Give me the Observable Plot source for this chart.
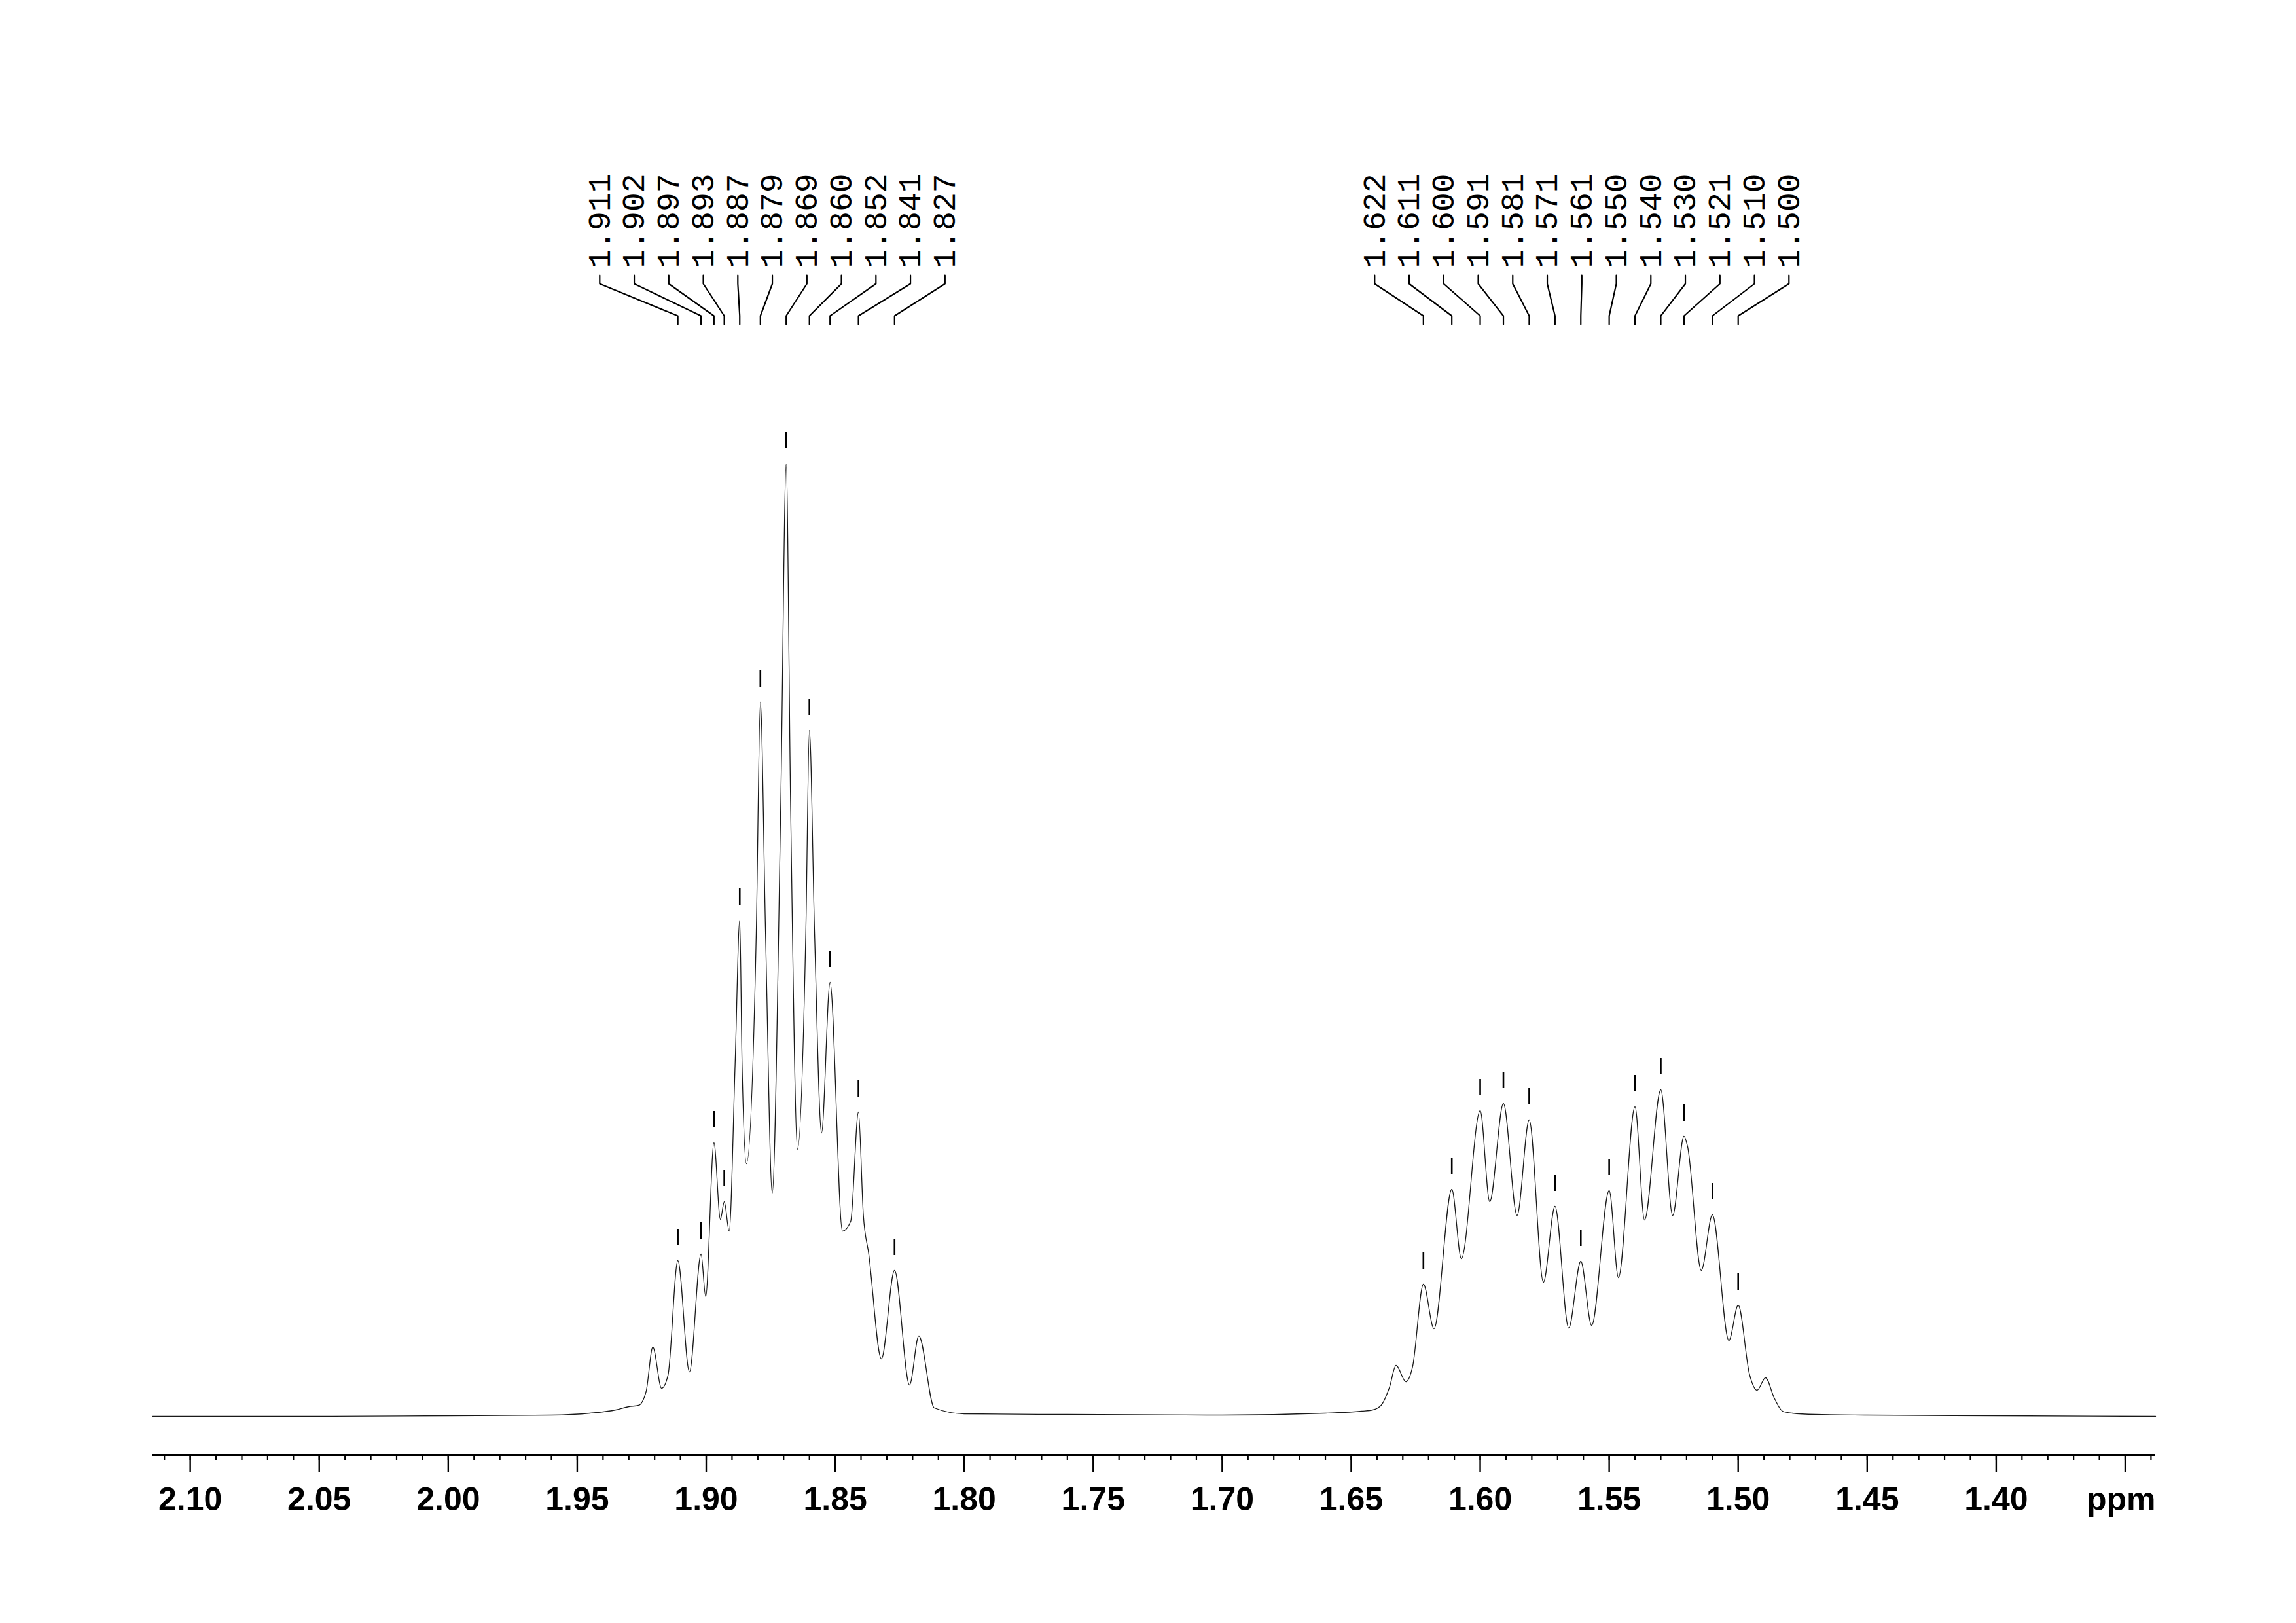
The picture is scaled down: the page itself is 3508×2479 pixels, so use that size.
<!DOCTYPE html>
<html>
<head>
<meta charset="utf-8">
<script src="https://cdn.jsdelivr.net/npm/d3@7"></script>
<script src="https://cdn.jsdelivr.net/npm/@observablehq/plot@0.6"></script>
<style>
  html, body { margin: 0; padding: 0; background: #ffffff; }
  #chart svg { display: block; }
</style>
</head>
<body>
<div id="chart"></div>
<script>
// ---------- data ----------
// labelled peaks (ppm) and their heights (intensity, arbitrary units)
const leftPeakPpm  = [1.911, 1.902, 1.897, 1.893, 1.887, 1.879, 1.869, 1.860, 1.852, 1.841, 1.827];
const leftPeakInt  = [240,   250,   420,   330,   760,   1093,  1457,  1050,  665,   467,   225];
const rightPeakPpm = [1.622, 1.611, 1.600, 1.591, 1.581, 1.571, 1.561, 1.550, 1.540, 1.530, 1.521, 1.510, 1.500];
const rightPeakInt = [204,   349,   469,   480,   455,   323,   239,   347,   475,   501,   430,   310,   172];

// other points of the trace (baseline, valleys, flanks, small unlabelled lines)
const curvePpm = [2.1145, 2.06, 2.00, 1.96, 1.945, 1.935, 1.9300, 1.9262, 1.9233, 1.9207, 1.9173, 1.9148,
  1.9065, 1.9002, 1.8945, 1.8911, 1.8888, 1.8861, 1.8844, 1.8806, 1.8770, 1.8744, 1.8711, 1.8673,
  1.8646, 1.8614, 1.8580, 1.8553, 1.8472, 1.8440, 1.8391, 1.8370, 1.8321, 1.8212, 1.8176, 1.8116,
  1.80, 1.76, 1.70, 1.66, 1.6459, 1.6416, 1.6384, 1.6352, 1.6326, 1.6288, 1.6262, 1.6179, 1.6073,
  1.5963, 1.5857, 1.5755, 1.5657, 1.5568, 1.5464, 1.5363, 1.5254, 1.5196, 1.5143, 1.5036, 1.4956,
  1.4927, 1.4894, 1.4860, 1.4828, 1.4791, 1.47, 1.45, 1.40, 1.3382];
const curveInt = [2, 2, 3, 4, 7, 12, 17, 19, 40, 108, 45, 65,
  70, 185, 303, 285, 540, 540, 388, 740, 740, 343, 940, 940,
  410, 740, 740, 435, 285, 300, 310, 250, 90, 50, 125, 15,
  6, 5, 4, 7, 10, 12, 19, 46, 80, 55, 78, 136, 243,
  330, 309, 207, 137, 141, 214, 302, 309, 414, 225, 118, 66,
  42, 61, 30, 10, 7, 5, 4, 3, 2];

const majorTickValues = [2.10, 2.05, 2.00, 1.95, 1.90, 1.85, 1.80, 1.75, 1.70, 1.65, 1.60, 1.55, 1.50, 1.45, 1.40, 1.35];
const majorTickLabels = ["2.10", "2.05", "2.00", "1.95", "1.90", "1.85", "1.80", "1.75", "1.70", "1.65", "1.60", "1.55", "1.50", "1.45", "1.40", ""];
const minorTickValues = d3.range(134, 212).map(v => v / 100);
const unitLabel = "ppm";

// ---------- layout ----------
const W = 3508, H = 2479;
const margin = {left: 233, right: 215, bottom: 257, top: 0};
const xDomain = [2.1145, 1.3382];
const yDomain = [0, 1457];
const yRange = [2165, 708];
const axisPx = H - margin.bottom;           // axis line position
const lab = {textStart: 409, top: 420, knee1: 433, knee2: 482, bottom: 495, spacing: 52.75};
const pick = {gap: 23, len: 25};

const xs = Plot.scale({x: {domain: xDomain, range: [margin.left, W - margin.right]}});
const ys = Plot.scale({y: {domain: yDomain, range: yRange}});
const yAt = px => ys.invert(px);

// spectrum
const spectrum = [];
curvePpm.forEach((p, i) => spectrum.push({ppm: p, I: curveInt[i]}));
const peaks = [];
leftPeakPpm.forEach((p, i) => peaks.push({ppm: p, I: leftPeakInt[i], g: 0}));
rightPeakPpm.forEach((p, i) => peaks.push({ppm: p, I: rightPeakInt[i], g: 1}));
peaks.forEach(d => spectrum.push({ppm: d.ppm, I: d.I}));
spectrum.sort((a, b) => b.ppm - a.ppm);

// peak labels: evenly spaced columns centred on the mean peak position of each group
const labels = [];
const connectors = [];
[leftPeakPpm, rightPeakPpm].forEach((grp, g) => {
  const px = grp.map(p => xs.apply(p));
  const mean = d3.mean(px);
  const n = grp.length;
  grp.forEach((p, i) => {
    const lx = xs.invert(mean + (i - (n - 1) / 2) * lab.spacing);
    const id = g + "-" + i;
    labels.push({x: lx, text: p.toFixed(3)});
    connectors.push({id, x: lx, y: yAt(lab.top)});
    connectors.push({id, x: lx, y: yAt(lab.knee1)});
    connectors.push({id, x: p,  y: yAt(lab.knee2)});
    connectors.push({id, x: p,  y: yAt(lab.bottom)});
  });
});

const plot = Plot.plot({
  width: W,
  height: H,
  marginLeft: margin.left,
  marginRight: margin.right,
  marginBottom: margin.bottom,
  marginTop: margin.top,
  style: {background: "#ffffff", overflow: "visible"},
  x: {domain: xDomain, label: null},
  y: {domain: yDomain, range: yRange, axis: null},
  marks: [
    // axis line
    Plot.ruleY([yAt(axisPx)], {stroke: "#000", strokeWidth: 3}),
    // minor ticks
    Plot.axisX({ticks: minorTickValues, tickSize: 8, tickFormat: () => "", stroke: "#000", strokeWidth: 2.2, label: null}),
    // major ticks + labels
    Plot.axisX({
      ticks: majorTickValues, tickSize: 26, tickPadding: 22.5,
      tickFormat: d => majorTickLabels[majorTickValues.indexOf(d)],
      stroke: "#000", strokeWidth: 2.4, fill: "#000",
      fontSize: 50, fontWeight: "bold", fontFamily: "'Liberation Sans', Arial, Helvetica, sans-serif",
      label: null
    }),
    Plot.text([unitLabel], {
      x: () => xDomain[1], y: () => yAt(2306.5), text: d => d,
      textAnchor: "end", lineAnchor: "bottom", fill: "#000",
      fontSize: 50, fontWeight: "bold", fontFamily: "'Liberation Sans', Arial, Helvetica, sans-serif"
    }),
    // spectrum trace
    Plot.line(spectrum, {x: "ppm", y: "I", curve: "monotone-x", stroke: "#1a1a1a", strokeWidth: 1.3}),
    // peak pick marks
    Plot.ruleX(peaks, {
      x: "ppm",
      y1: d => yAt(ys.apply(d.I) - pick.gap),
      y2: d => yAt(ys.apply(d.I) - pick.gap - pick.len),
      stroke: "#000", strokeWidth: 2.6
    }),
    // label connectors
    Plot.line(connectors, {x: "x", y: "y", z: "id", stroke: "#000", strokeWidth: 2.2, curve: "linear"}),
    // labels
    Plot.text(labels, {
      x: "x", y: () => yAt(lab.textStart), text: "text",
      rotate: -90, textAnchor: "start", lineAnchor: "middle",
      fontFamily: "'Liberation Mono', 'Courier New', monospace", fontSize: 48, fill: "#000"
    })
  ]
});

document.getElementById("chart").appendChild(plot);
</script>
</body>
</html>
